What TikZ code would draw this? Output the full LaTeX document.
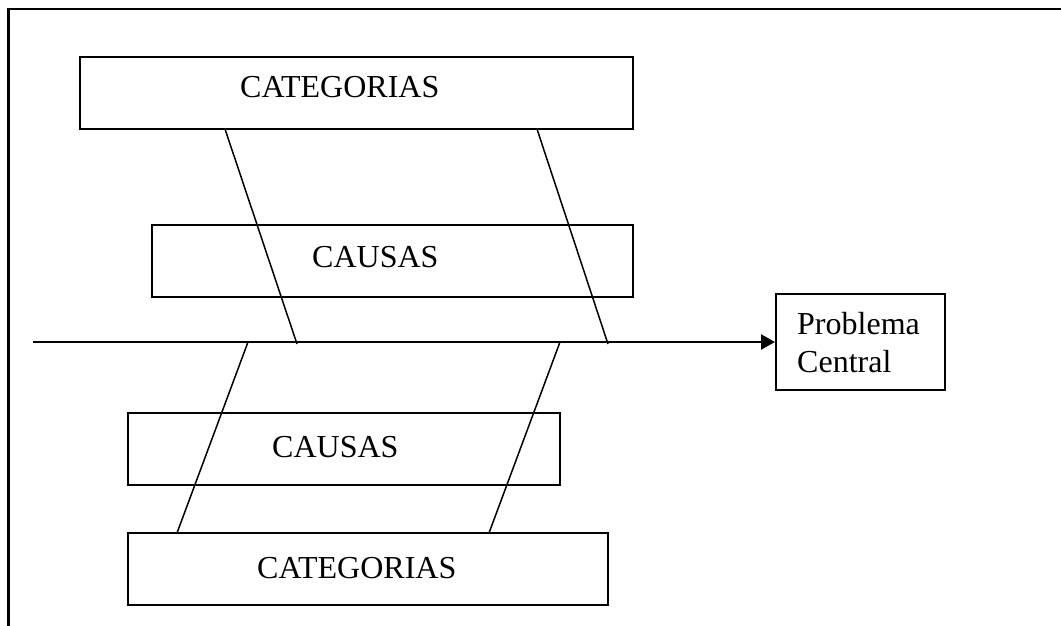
\documentclass[tikz,border=0pt]{standalone}
\usepackage{fontspec}
\setmainfont{Liberation Serif}
\usetikzlibrary{arrows.meta}
\begin{document}
\begin{tikzpicture}[x=1pt,y=-1pt,
  box/.style={draw,line width=2pt,rectangle,inner sep=0pt},
  lbl/.style={anchor=base west,inner sep=0pt,font=\fontsize{32}{36}\selectfont},
  bone/.style={line width=1.5pt},
  spine/.style={line width=2.4pt,-{Triangle[length=14pt,width=15pt]}},
  frame/.style={line width=2.4pt}]
\useasboundingbox (0,0) rectangle (1061,626);
% frame (open on right and bottom)
\coordinate (f1) at (8.5,626);
\coordinate (f2) at (8.5,9);
\coordinate (f3) at (1061,9);
\draw[frame] (f1) -- (f2) -- (f3);
% boxes
\node[box,minimum width=553pt,minimum height=72pt] (topcat) at (356.5,93) {};
\node[box,minimum width=481pt,minimum height=72pt] (topcau) at (392.5,261) {};
\node[box,minimum width=432pt,minimum height=72pt] (botcau) at (344,449) {};
\node[box,minimum width=480pt,minimum height=72pt] (botcat) at (368,569) {};
\node[box,minimum width=169pt,minimum height=96pt] (prob) at (860.5,342) {};
% texts
\node[lbl] (t1) at (240,98) {CATEGORIAS};
\node[lbl] (t2) at (312,267) {CAUSAS};
\node[lbl] (t3) at (272,457.5) {CAUSAS};
\node[lbl] (t4) at (257,578) {CATEGORIAS};
\node[lbl] (t5) at (797,334) {Problema};
\node[lbl] (t6) at (797,372) {Central};
% spine
\coordinate (s0) at (33,342);
\draw[spine] (s0) -- (prob.west);
% bone end points
\coordinate (a1) at (225,129);
\coordinate (a2) at (297,344);
\coordinate (b1) at (537,129);
\coordinate (b2) at (608,344);
\coordinate (c1) at (248,342);
\coordinate (c2) at (177,533);
\coordinate (d1) at (560,342);
\coordinate (d2) at (489,533);
\draw[bone] (a1) -- (a2);
\draw[bone] (b1) -- (b2);
\draw[bone] (c1) -- (c2);
\draw[bone] (d1) -- (d2);
\end{tikzpicture}
\end{document}
